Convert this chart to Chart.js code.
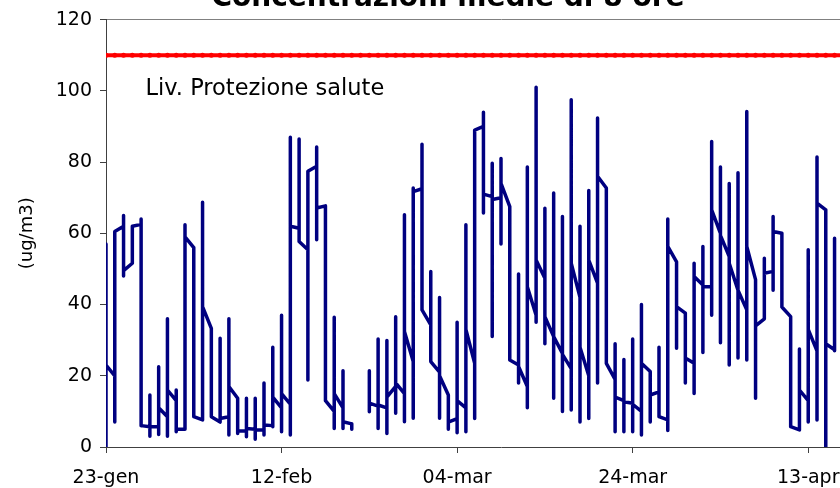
<!DOCTYPE html>
<html>
<head>
<meta charset="utf-8">
<script src="https://cdn.jsdelivr.net/npm/chart.js@4.4.1/dist/chart.umd.min.js"></script>
<style>
html, body { margin: 0; padding: 0; background: #fff; overflow: hidden; width: 840px; height: 488px; }
#wrap { position: absolute; left: 0; top: -22px; }
</style>
</head>
<body>
<div id="wrap"><canvas id="myChart" width="902" height="510"></canvas></div>
<script>
// giorni a partire dal 23-gen, tacche ogni 20 giorni
var tickLabels = ['23-gen', '12-feb', '04-mar', '24-mar', '13-apr'];
var limitLevel = 110;
var limitLabel = 'Liv. Protezione salute';

// medie di 8 ore: per ogni giorno primo valore, minimo, massimo, ultimo valore
var dayFirst = [0, 20, 62, 51.6, 62.5, 5.7, 5.7, 8.5, 13, 5, 56, 7.6, 33.3, 7, 8.5, 13.7, 4.5, 5, 4.8, 6,
    11, 12, 61.4, 55.4, 78.8, 67.7, 10, 11, 6.5, null, 21.4, 11.5, 11, 17, 15, 24, 72.5, 34.3, 21, 14.6,
    8, 11, 23.5, 90, 70.3, 70, 67.5, 23, 17, 37, 47.4, 31, 26.3, 22, 42, 20, 46, 72.7, 19, 13,
    12.3, 10, 21.2, 15.5, 7.6, 52, 37.6, 23.5, 45.5, 45, 60, 53.5, 44, 38.5, 47, 36, 49.3, 60, 36.6, 4.8,
    13, 27, 66.6, 27.3];
var dayMin = [0, 7, 48, 51.6, 6, 3, 3.5, 3, 4.3, 5, 8.5, 7.6, 8.5, 7, 3.4, 3.8, 2.9, 2.2, 3.4, 5.7,
    4.3, 3.4, 57.7, 18.8, 58.2, 13, 5.2, 5.2, 5, null, 9.9, 5.2, 3.8, 9.5, 7.1, 8.1, 38.5, 24, 8.1, 5,
    4, 4.3, 8, 65.7, 31, 57, 24.4, 18, 11, 35, 29, 13.7, 10, 10.4, 7, 8, 18, 23.5, 4.3, 4.3,
    4.3, 3.4, 7, 8.5, 4.6, 27.7, 18, 15, 26.5, 37, 29.3, 23, 25, 24.4, 13.7, 36, 44, 39.3, 5.7, 4.8,
    7, 7.6, 0, 27];
var dayMax = [57, 60.5, 65, 62, 64, 14.6, 22.5, 36, 16, 62.4, 56, 68.7, 33.3, 30.5, 36, 13.7, 13.7, 13.7, 18, 28,
    37, 87, 86.5, 77.4, 84.2, 67.7, 36.4, 21.4, 6.5, null, 21.4, 30.3, 29.9, 36.6, 65.2, 72.7, 85, 49.3, 42, 14.6,
    35, 62.4, 89, 94, 79.7, 81, 67.5, 48.6, 78.6, 101, 67, 71.3, 64.7, 97.5, 62, 72, 92.4, 72.7, 29, 24.6,
    30.3, 40, 21.2, 28, 64, 52, 37.6, 51.6, 56.3, 85.8, 78.6, 74, 77, 94.2, 47, 53, 64.7, 60, 36.6, 27.5,
    55.4, 81.4, 66.6, 58.6];
var dayLast = [23, 60.5, 49.5, 62, 6, 5.7, 11, 16, 5, 59, 8.5, 39.4, 8.5, 8, 17, 4.5, 5.2, 4.8, 6.2, 14,
    15, 62, 57.7, 77.4, 67.1, 13, 15, 7.1, 5, null, 12.3, 11.8, 14, 18, 32.4, 71.7, 38.5, 24, 20, 7,
    13, 33, 89, 71, 69.5, 74, 24.4, 22.6, 45, 52.5, 36.6, 31, 26, 51.6, 28, 52.5, 76, 23.5, 14, 12.7,
    12, 23.5, 14.6, 8.5, 56.3, 39.4, 25, 47.9, 45, 66.6, 59.4, 51.6, 44, 56.3, 34, 48.8, 60.5, 39.3, 5.7, 16,
    33, 68.5, 29, 28];

var lastDay = 90;

var points = [];
for (var d = 0; d < dayFirst.length; d++) {
    if (dayFirst[d] === null) {
        points.push({x: d, y: null});
        continue;
    }
    points.push({x: d, y: dayFirst[d]}, {x: d, y: dayMin[d]}, {x: d, y: dayMax[d]}, {x: d, y: dayLast[d]});
}

var limitPoints = [];
for (var i = 0; i <= lastDay; i++) {
    limitPoints.push({x: i, y: limitLevel});
}

Chart.defaults.font.family = "'DejaVu Sans', sans-serif";
Chart.defaults.color = '#000';

// scritta della soglia
var limitText = {
    id: 'limitText',
    afterDatasetsDraw: function(chart) {
        var ctx = chart.ctx;
        ctx.save();
        ctx.font = "22.5px 'DejaVu Sans', sans-serif";
        ctx.fillStyle = '#000';
        ctx.textAlign = 'left';
        ctx.textBaseline = 'middle';
        ctx.fillText(limitLabel, chart.scales.x.getPixelForValue(4.5), chart.scales.y.getPixelForValue(100.5));
        ctx.restore();
    }
};

var ctx = document.getElementById('myChart').getContext('2d');
var chart = new Chart(ctx, {
    type: 'line',
    data: {
        datasets: [{
            label: 'Liv. Protezione salute',
            data: limitPoints,
            borderColor: '#ff0000',
            backgroundColor: '#ff0000',
            borderWidth: 4,
            pointRadius: 2.5,
            pointBorderWidth: 0,
            fill: false
        }, {
            label: 'Media 8 ore',
            data: points,
            borderColor: '#000080',
            borderWidth: 3.5,
            borderJoinStyle: 'round',
            borderCapStyle: 'round',
            pointRadius: 0,
            tension: 0,
            spanGaps: false,
            fill: false
        }]
    },
    options: {
        responsive: false,
        animation: false,
        layout: { padding: { left: 0, right: 6, top: 0, bottom: 0 } },
        plugins: {
            legend: { display: false },
            tooltip: { enabled: false },
            title: {
                display: true,
                text: 'Concentrazioni medie di 8 ore',
                font: { size: 28, weight: 'bold' },
                color: '#000',
                padding: { top: 4, bottom: 4 }
            }
        },
        scales: {
            x: {
                type: 'linear',
                min: 0,
                max: lastDay,
                afterFit: function(scale) { scale.height = 41; },
                afterBuildTicks: function(scale) {
                    scale.ticks = scale.ticks.filter(function(t) { return t.value % 20 === 0; });
                },
                ticks: {
                    stepSize: 20,
                    autoSkip: false,
                    maxRotation: 0,
                    padding: 14,
                    font: { size: 19 },
                    callback: function(v) { return tickLabels[v / 20]; }
                },
                grid: { drawOnChartArea: false, tickColor: '#404040', tickLength: 6 },
                border: { color: '#404040', width: 1 }
            },
            y: {
                min: 0,
                max: 120,
                afterFit: function(scale) { scale.width = 106; },
                ticks: { stepSize: 20, padding: 8, font: { size: 19 } },
                grid: {
                    color: function(c) { return c.tick && c.tick.value === 120 ? '#808080' : 'rgba(0,0,0,0)'; },
                    tickColor: '#404040',
                    tickLength: 6
                },
                border: { color: '#404040', width: 1 },
                title: {
                    display: true,
                    text: '(ug/m3)',
                    font: { size: 18 },
                    padding: { top: 17, bottom: 0 }
                }
            }
        }
    },
    plugins: [limitText]
});
</script>
</body>
</html>
